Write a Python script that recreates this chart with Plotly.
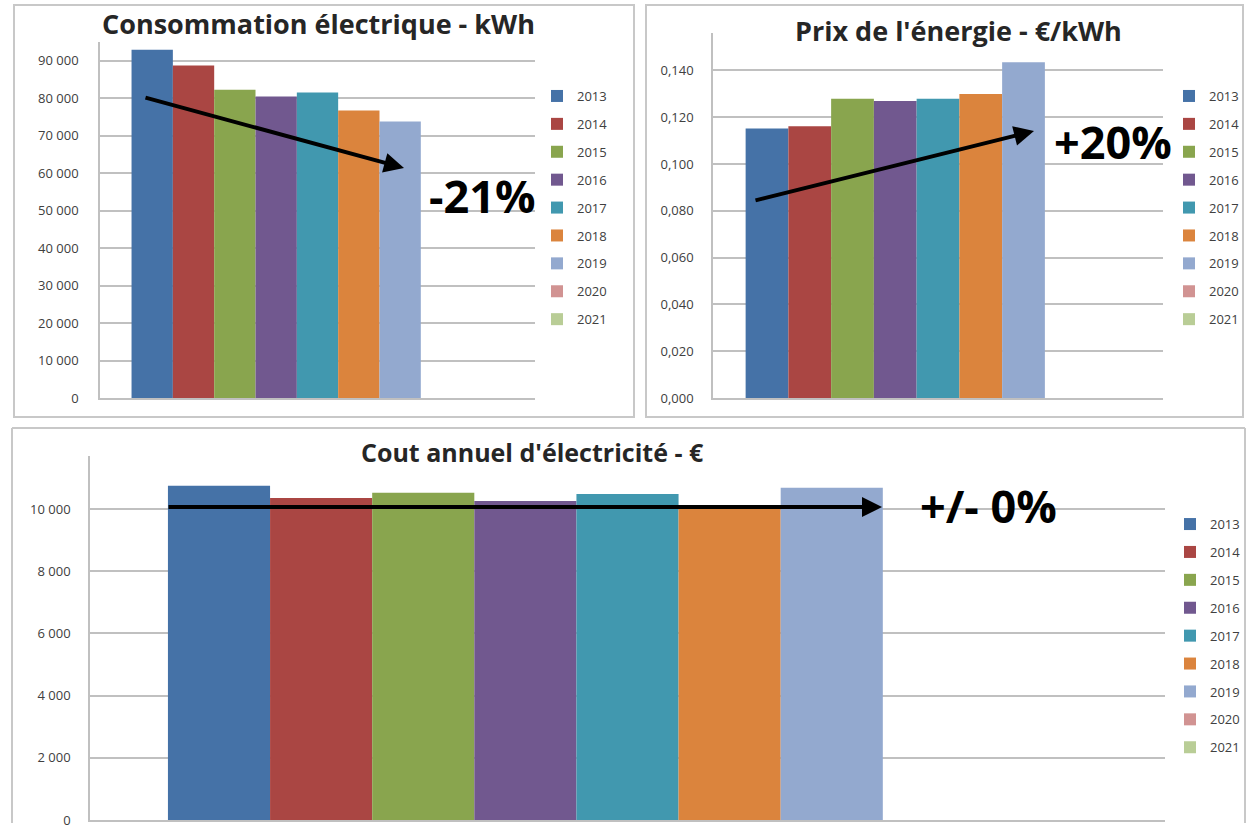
import plotly.graph_objs as go

# data
years = ['2013', '2014', '2015', '2016', '2017', '2018', '2019', '2020', '2021']
colors = ['#4572A7', '#AA4643', '#89A54E', '#71588F', '#4198AF',
          '#DB843D', '#93A9CF', '#D19392', '#B9CD96']
conso_kwh = [92950, 88760, 82260, 80480, 81550, 76740, 73800, None, None]
prix_kwh = [0.1152, 0.1162, 0.1279, 0.1269, 0.1279, 0.1299, 0.1435, None, None]
cout_annuel = [10748, 10353, 10523, 10257, 10481, 10080, 10683, None, None]

W, H = 1246, 832
K = 0.989  # the page capture comes out a bit squeezed vertically
FONT = 'Open Sans'
GRID = '#c0c0c0'
TXT = '#404040'


def px(x):
    return x / W


def py(y):
    return max(0.0, 1 - (y / K) / H)


fig = go.Figure()

# one bar per year, one category per panel, each panel has its own legend
panels = [
    (conso_kwh, 'x', 'y', 'legend'),
    (prix_kwh, 'x2', 'y2', 'legend2'),
    (cout_annuel, 'x3', 'y3', 'legend3'),
]
for values, xa, ya, leg in panels:
    for year, color, val in zip(years, colors, values):
        fig.add_trace(go.Bar(x=['Total'], y=[val], name=year, marker_color=color,
                             marker_line_width=0, xaxis=xa, yaxis=ya, legend=leg,
                             legendgroup=leg + year, hoverinfo='name+y'))

xcommon = dict(type='category', showticklabels=False, showgrid=False, showline=True,
               linecolor=GRID, linewidth=1.5, zeroline=False, fixedrange=True)
ycommon = dict(showline=True, linecolor=GRID, linewidth=1.5, showgrid=True, gridcolor=GRID,
               gridwidth=1.5, zeroline=False, ticks='', ticklabelstandoff=17,
               tickfont=dict(family=FONT, size=13, color=TXT))

legcommon = dict(font=dict(family=FONT, size=13, color=TXT), bgcolor='rgba(0,0,0,0)',
                 xanchor='left', yanchor='top', tracegroupgap=8)

layout = go.Layout(
    width=W, height=H, margin=dict(l=0, r=0, t=0, b=0),
    paper_bgcolor='white', plot_bgcolor='white',
    separators=', ', barmode='group', bargap=0.145, bargroupgap=0,
    font=dict(family=FONT, color=TXT),
    xaxis=dict(xcommon, domain=[px(100), px(535)], anchor='y'),
    yaxis=dict(ycommon, domain=[py(398), py(42)], anchor='x', range=[0, 95000],
               dtick=10000, tickformat=',d'),
    xaxis2=dict(xcommon, domain=[px(713), px(1163)], anchor='y2'),
    yaxis2=dict(ycommon, domain=[py(398), py(33)], anchor='x2', range=[0, 0.156],
                dtick=0.02, tickformat='.3f', ticklabelstandoff=15),
    xaxis3=dict(xcommon, domain=[px(90), px(1165)], anchor='y3'),
    yaxis3=dict(ycommon, domain=[py(820), py(456)], anchor='x3', range=[0, 11700],
                dtick=2000, tickformat=',d', ticklabelstandoff=15),
    legend=dict(legcommon, x=px(537), y=py(81)),
    legend2=dict(legcommon, x=px(1169), y=py(81)),
    legend3=dict(legcommon, x=px(1170), y=py(509)),
)
fig.update_layout(layout)

# panel frames; the bottom one runs off the lower edge, so no bottom line
frame = dict(color='#c8c8c8', width=2)
for x0, y0, x1, y1 in [(14, 5, 634, 417), (646, 5, 1243, 417)]:
    fig.add_shape(type='rect', xref='paper', yref='paper', x0=px(x0), x1=px(x1),
                  y0=py(y1), y1=py(y0), line=frame, layer='below')
for x0, y0, x1, y1 in [(12, 428, 1245, 428), (12, 428, 12, 850), (1245, 428, 1245, 850)]:
    fig.add_shape(type='line', xref='paper', yref='paper', x0=px(x0), x1=px(x1),
                  y0=py(y1), y1=py(y0), line=frame, layer='below')

# titles
titles = [
    ('Consommation électrique - kWh', 318, 23, 27),
    ("Prix de l'énergie - €/kWh", 958, 30, 27),
    ("Cout annuel d'électricité - €", 532, 452, 25),
]
for text, x, y, size in titles:
    fig.add_annotation(text='<b>%s</b>' % text, xref='paper', yref='paper', x=px(x), y=py(y),
                       xanchor='center', yanchor='middle', showarrow=False,
                       font=dict(family=FONT, size=size, color='#262626'))

# trend arrows (head position, tail offset in pixels)
arrows = [((404, 168), (144, 98)), ((1034, 131), (754, 200)), ((882, 507), (167, 507))]
for (hx, hy), (tx, ty) in arrows:
    fig.add_annotation(text='', xref='paper', yref='paper', x=px(hx), y=py(hy),
                       ax=tx - hx, ay=(ty - hy) / K, showarrow=True, arrowhead=2,
                       arrowsize=1, arrowwidth=4, arrowcolor='black', standoff=0)

# percentage labels
labels = [('-21%', 482, 195), ('+20%', 1113, 141), ('+/- 0%', 988, 505)]
for text, x, y in labels:
    fig.add_annotation(text='<b>%s</b>' % text, xref='paper', yref='paper', x=px(x), y=py(y),
                       xanchor='center', yanchor='middle', showarrow=False,
                       font=dict(family=FONT, size=45, color='black'))

# strip page margin so the figure starts at the top-left corner
post = ("document.body.style.margin='0';"
        "document.documentElement.style.overflow='hidden';"
        "document.body.style.overflow='hidden';")
fig.write_html('out.html', config={'displayModeBar': False}, post_script=post)
